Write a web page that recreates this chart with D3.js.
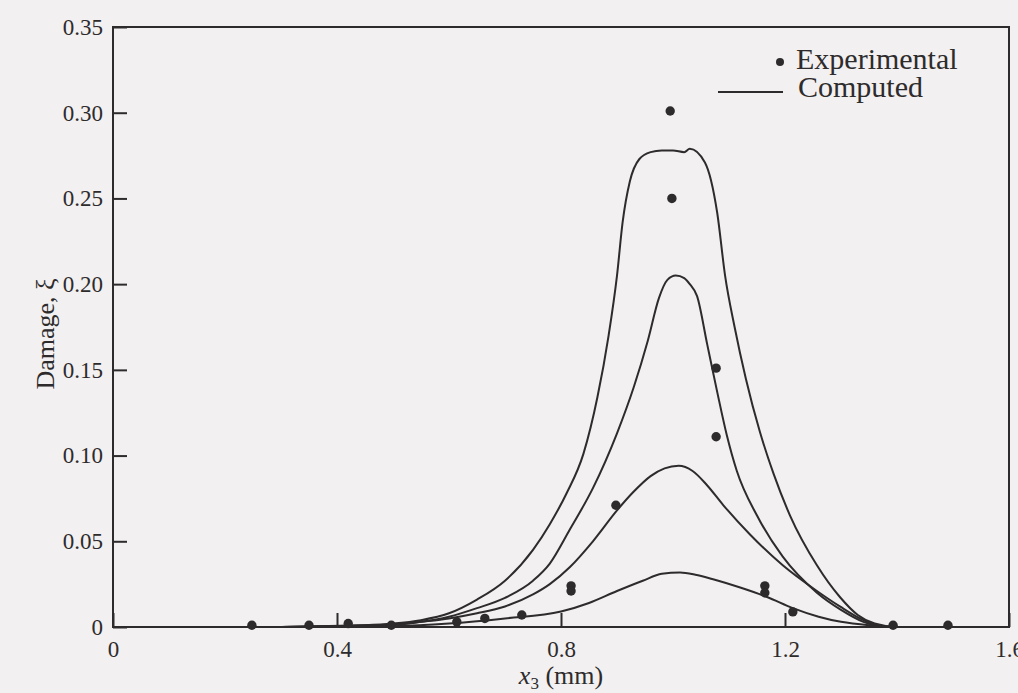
<!DOCTYPE html>
<html>
<head>
<meta charset="utf-8">
<title>Damage profile</title>
<script src="https://cdn.jsdelivr.net/npm/d3@7"></script>
<style>
	body { margin: 0; background: #f2f0f0; }
	svg { display: block; }
	text { font-family: "Liberation Serif", "Times New Roman", serif; fill: #2e2b2c; }
</style>
</head>
<body>
<svg width="1018" height="693" class="chart"></svg>
<script>
// tick values
var xTicks = [0, 0.4, 0.8, 1.2, 1.6]
var yTicks = [0, 0.05, 0.10, 0.15, 0.20, 0.25, 0.30, 0.35]

// experimental points
var expX = [0.248, 0.35, 0.42, 0.497, 0.614, 0.664, 0.73, 0.818, 0.818, 0.898, 0.995, 0.998, 1.077, 1.077, 1.164, 1.164, 1.214, 1.393, 1.491]
var expY = [0.001, 0.001, 0.002, 0.001, 0.003, 0.005, 0.007, 0.024, 0.021, 0.071, 0.301, 0.250, 0.151, 0.111, 0.024, 0.020, 0.0088, 0.001, 0.001]

// computed curves
var comp1X = [0.30, 0.45, 0.50, 0.55, 0.60, 0.65, 0.70, 0.75, 0.78, 0.81, 0.84, 0.865, 0.885, 0.90, 0.91, 0.923, 0.94, 0.96, 0.98, 1.00, 1.02, 1.03, 1.057, 1.079, 1.093, 1.11, 1.13, 1.155, 1.18, 1.209, 1.257, 1.298, 1.33, 1.36, 1.40, 1.50]
var comp1Y = [0, 0.001, 0.002, 0.004, 0.008, 0.016, 0.027, 0.045, 0.060, 0.078, 0.101, 0.134, 0.170, 0.205, 0.236, 0.260, 0.273, 0.277, 0.278, 0.278, 0.277, 0.279, 0.271, 0.2415, 0.205, 0.175, 0.145, 0.114, 0.089, 0.065, 0.036, 0.0175, 0.007, 0.002, 0, 0]

var comp2X = [0.30, 0.45, 0.50, 0.55, 0.60, 0.65, 0.70, 0.75, 0.78, 0.816, 0.857, 0.90, 0.93, 0.955, 0.975, 0.99, 1.005, 1.02, 1.03, 1.043, 1.061, 1.079, 1.096, 1.114, 1.15, 1.196, 1.257, 1.30, 1.34, 1.38, 1.50]
var comp2Y = [0, 0.001, 0.0015, 0.003, 0.006, 0.011, 0.017, 0.027, 0.037, 0.057, 0.081, 0.113, 0.140, 0.167, 0.192, 0.2025, 0.205, 0.2035, 0.200, 0.193, 0.165, 0.137, 0.112, 0.091, 0.065, 0.041, 0.020, 0.010, 0.003, 0, 0]

var comp3X = [0.30, 0.45, 0.50, 0.55, 0.60, 0.65, 0.70, 0.75, 0.78, 0.816, 0.857, 0.90, 0.93, 0.96, 0.985, 1.01, 1.035, 1.06, 1.09, 1.1375, 1.196, 1.257, 1.298, 1.34, 1.38, 1.50]
var comp3Y = [0, 0.0008, 0.0012, 0.003, 0.005, 0.008, 0.012, 0.019, 0.025, 0.035, 0.050, 0.068, 0.079, 0.088, 0.0925, 0.094, 0.091, 0.083, 0.071, 0.054, 0.036, 0.021, 0.012, 0.004, 0, 0]

var comp4X = [0.30, 0.50, 0.60, 0.70, 0.80, 0.85, 0.90, 0.946, 0.98, 1.0125, 1.04, 1.07, 1.12, 1.168, 1.214, 1.26, 1.30, 1.35, 1.40, 1.50]
var comp4Y = [0, 0.0005, 0.002, 0.005, 0.009, 0.014, 0.021, 0.027, 0.031, 0.0318, 0.0305, 0.028, 0.023, 0.0175, 0.011, 0.006, 0.003, 0.001, 0, 0]

var ink = '#2e2b2c'
var svg = d3.select('.chart')

var x = d3.scaleLinear().domain([0, 1.6]).range([113, 1009])
var y = d3.scaleLinear().domain([0, 0.35]).range([627, 27])

// frame
svg.append('rect')
	.attr('x', x(0)).attr('y', y(0.35))
	.attr('width', x(1.6) - x(0)).attr('height', y(0) - y(0.35))
	.attr('fill', 'none').attr('stroke', ink).attr('stroke-width', 2)

// axes, ticks point inward
var yAxis = svg.append('g')
	.attr('transform', 'translate(' + x(0) + ',0)')
	.call(d3.axisLeft(y).tickValues(yTicks).tickSize(-14).tickPadding(10)
		.tickFormat(function(d) { return d === 0 ? '0' : d3.format('.2f')(d) }))
yAxis.select('.domain').remove()

var xAxis = svg.append('g')
	.attr('transform', 'translate(0,' + y(0) + ')')
	.call(d3.axisBottom(x).tickValues(xTicks).tickSize(-14).tickPadding(10)
		.tickFormat(function(d) { return d === 0 ? '0' : d3.format('.1f')(d) }))
xAxis.select('.domain').remove()

svg.selectAll('.tick line').attr('stroke', ink).attr('stroke-width', 2)
svg.selectAll('.tick text').attr('fill', ink).style('font-size', '23px')
	.style('font-family', '"Liberation Serif", serif')
xAxis.selectAll('.tick text').attr('dy', '0.85em')

// axis titles
svg.append('text')
	.attr('transform', 'translate(54,334) rotate(-90)')
	.attr('text-anchor', 'middle')
	.style('font-size', '26px')
	.text('Damage, ξ')

var xt = svg.append('text')
	.attr('x', x(0.8)).attr('y', 684)
	.attr('text-anchor', 'middle')
	.style('font-size', '26px')
xt.append('tspan').style('font-style', 'italic').text('x')
xt.append('tspan').attr('dy', 5).style('font-size', '17px').text('3')
xt.append('tspan').attr('dy', -5).text(' (mm)')

// computed curves
var line = d3.line()
	.x(function(d) { return x(d[0]) })
	.y(function(d) { return y(d[1]) })
	.curve(d3.curveMonotoneX)

var curves = [[comp1X, comp1Y], [comp2X, comp2Y], [comp3X, comp3Y], [comp4X, comp4Y]]
svg.append('g').selectAll('path')
	.data(curves)
	.enter()
	.append('path')
	.attr('d', function(c) { return line(d3.zip(c[0], c[1])) })
	.attr('fill', 'none')
	.attr('stroke', ink)
	.attr('stroke-width', 2)

// experimental points
svg.append('g').selectAll('circle')
	.data(d3.zip(expX, expY))
	.enter()
	.append('circle')
	.attr('cx', function(d) { return x(d[0]) })
	.attr('cy', function(d) { return y(d[1]) })
	.attr('r', 4.7)
	.attr('fill', ink)

// legend
var lg = svg.append('g')
lg.append('circle').attr('cx', 780).attr('cy', 62).attr('r', 4).attr('fill', ink)
lg.append('text').attr('x', 796).attr('y', 69).style('font-size', '30px').text('Experimental')
lg.append('line').attr('x1', 718).attr('x2', 783).attr('y1', 92).attr('y2', 92)
	.attr('stroke', ink).attr('stroke-width', 2)
lg.append('text').attr('x', 798).attr('y', 97).style('font-size', '30px').text('Computed')
</script>
</body>
</html>
